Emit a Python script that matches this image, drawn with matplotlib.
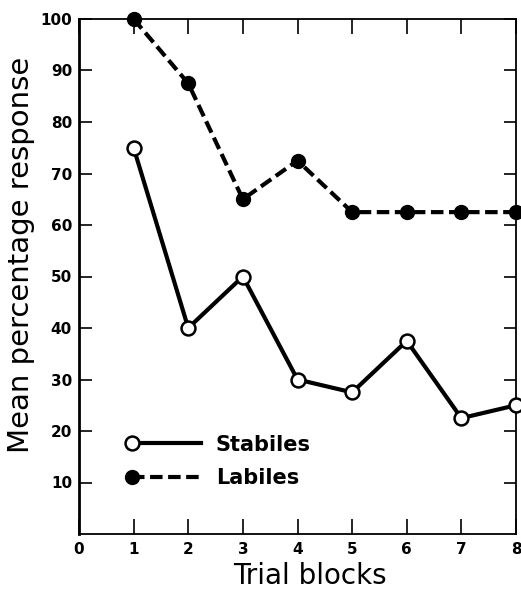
import matplotlib
matplotlib.use("Agg")
import matplotlib.pyplot as plt
import numpy as np
from matplotlib.legend_handler import HandlerLine2D
from matplotlib.lines import Line2D

plt.rcParams['font.family'] = ['DejaVu Sans']
plt.rcParams['lines.scale_dashes'] = False

blocks = [1, 2, 3, 4, 5, 6, 7, 8]
stabiles = [75, 40, 50, 30, 27.5, 37.5, 22.5, 25]
labiles = [100, 87.5, 65, 72.5, 62.5, 62.5, 62.5, 62.5]
xticks = [0, 1, 2, 3, 4, 5, 6, 7, 8]
yticks = [10, 20, 30, 40, 50, 60, 70, 80, 90, 100]


class LeftMarkerHandler(HandlerLine2D):
    def create_artists(self, legend, orig_handle, xdescent, ydescent,
                       width, height, fontsize, trans):
        xdata = np.array([-xdescent, -xdescent + width])
        ydata = np.full_like(xdata, (height - ydescent) / 2)
        legline = Line2D(xdata, ydata)
        self.update_prop(legline, orig_handle, legend)
        legline.set_markevery([0])
        legline.set_transform(trans)
        return [legline]


fig = plt.figure(figsize=(5.21, 5.89), dpi=100)
ax = fig.add_axes([79/521, 1-534/589, (516-79)/521, (534-19)/589])

l1, = ax.plot(blocks, stabiles, color='black', lw=3, marker='o', ms=10,
              mfc='white', mec='black', mew=1.8, label='Stabiles', clip_on=False, zorder=3)
l2, = ax.plot(blocks, labiles, color='black', lw=3, marker='o', ms=10,
              mfc='black', mec='black', linestyle=(0, (9, 4)), label='Labiles',
              clip_on=False, zorder=3)

ax.set_xlim(0, 8)
ax.set_ylim(0, 100)
ax.set_xticks(xticks)
ax.set_xticklabels([str(t) for t in xticks], fontsize=11, fontweight='bold')
ax.set_yticks(yticks)
ax.set_yticklabels([str(t) for t in yticks], fontsize=11, fontweight='bold')
ax.tick_params(axis='x', direction='in', length=11, width=1.2, top=True, pad=6)
ax.tick_params(axis='y', direction='in', length=9, width=1.2, right=True, pad=5)
for s in ax.spines.values():
    s.set_linewidth(1.3)
ax.spines['left'].set_linewidth(2)

ax.set_xlabel('Trial blocks', fontsize=20)
ax.set_ylabel('Mean percentage response', fontsize=21)
ax.xaxis.set_label_coords(0.529, -0.054)
ax.yaxis.set_label_coords(-0.10, 0.542)

leg = ax.legend(handler_map={l1: LeftMarkerHandler(), l2: LeftMarkerHandler()},
                loc='upper left', bbox_to_anchor=(0.121, 0.193), frameon=False,
                borderaxespad=0, borderpad=0,
                handlelength=3.3, handletextpad=0.72, labelspacing=0.65,
                prop={'size': 15, 'weight': 'bold'})

fig.savefig('out.png', dpi=100)
